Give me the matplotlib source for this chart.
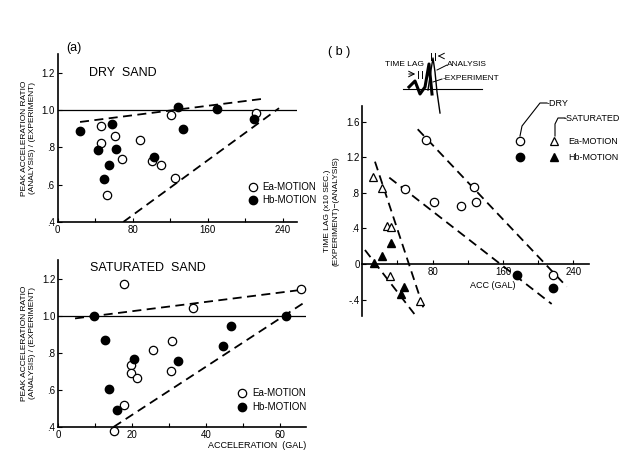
import matplotlib
matplotlib.use("Agg")
import matplotlib.pyplot as plt
import numpy as np

plt.rcParams['font.family'] = ['Liberation Sans', 'DejaVu Sans']

# (a) dry sand: acceleration (gal) vs peak acceleration ratio
dry_ea_acc = [46, 46, 61, 69, 53, 88, 101, 110, 121, 125, 211]
dry_ea_ratio = [0.916, 0.825, 0.862, 0.736, 0.546, 0.838, 0.729, 0.704, 0.973, 0.637, 0.982]
dry_hb_acc = [24, 43.5, 58, 62.5, 55, 50, 103, 128, 134, 170, 209]
dry_hb_ratio = [0.889, 0.784, 0.925, 0.789, 0.707, 0.632, 0.746, 1.016, 0.900, 1.007, 0.950]
dry_upper_x = [24, 217]
dry_upper_y = [0.936, 1.059]
dry_lower_x = [70, 236]
dry_lower_y = [0.40, 1.01]

# (a) saturated sand
sat_ea_acc = [17.8, 15, 19.7, 19.7, 21.3, 25.6, 30.5, 30.7, 36.5, 65.6, 17.8]
sat_ea_ratio = [0.52, 0.38, 0.735, 0.69, 0.665, 0.817, 0.704, 0.862, 1.041, 1.145, 1.172]
sat_hb_acc = [9.6, 12.7, 13.9, 15.9, 20.6, 32.5, 44.6, 46.6, 61.6]
sat_hb_ratio = [1.0, 0.866, 0.606, 0.49, 0.767, 0.753, 0.839, 0.946, 1.0]
sat_upper_x = [4.6, 65.4]
sat_upper_y = [0.985, 1.138]
sat_lower_x = [15, 68]
sat_lower_y = [0.40, 1.09]

# (b) time lag vs acceleration
lag_dry_ea_x = [72, 48.6, 82, 112, 126.5, 129.2, 216.6]
lag_dry_ea_y = [1.40, 0.84, 0.70, 0.654, 0.862, 0.70, -0.124]
lag_dry_hb_x = [176.4, 217.3]
lag_dry_hb_y = [-0.124, -0.267]
lag_sat_ea_x = [12.5, 22.8, 27.7, 32.7, 31.5, 65.6]
lag_sat_ea_y = [0.977, 0.853, 0.428, 0.42, -0.131, -0.413]
lag_sat_hb_x = [13.7, 22.8, 32.7, 47.8, 44]
lag_sat_hb_y = [0.015, 0.09, 0.233, -0.255, -0.342]
lag_fits = [([63, 232.5], [1.518, -0.255]),
            ([30.7, 215.4], [0.973, -0.45]),
            ([14.4, 70.6], [1.153, -0.526]),
            ([3, 59.2], [0.158, -0.563])]

fig = plt.figure(figsize=(6.25, 4.61), dpi=100)

dash = (0, (5, 3))
ms = 6


def style_axes(ax):
    for s in ['top', 'right']:
        ax.spines[s].set_visible(False)
    for s in ['left', 'bottom']:
        ax.spines[s].set_linewidth(1.2)
    ax.tick_params(direction='in', length=3, width=0.8, labelsize=7, pad=2)


def ratio_panel(rect, xlim, xticks, xlabels, ea_x, ea_y, hb_x, hb_y, fits, title, title_y):
    ax = fig.add_axes(rect)
    style_axes(ax)
    ax.set_xlim(*xlim)
    ax.set_ylim(0.4, 1.3)
    ax.set_xticks(xticks)
    ax.set_xticklabels(xlabels)
    ax.set_yticks([0.4, 0.6, 0.8, 1.0, 1.2])
    ax.set_yticklabels(['.4', '.6', '.8', '1.0', '1.2'])
    ax.axhline(1.0, color='black', lw=0.9)
    for fx, fy in fits:
        ax.plot(fx, fy, color='black', lw=1.3, ls=dash)
    ax.plot(ea_x, ea_y, 'o', mfc='white', mec='black', mew=0.9, ms=ms,
            label='Ea-MOTION', clip_on=False)
    ax.plot(hb_x, hb_y, 'o', color='black', ms=ms, label='Hb-MOTION', clip_on=False)
    ax.text(0.13, title_y, title, transform=ax.transAxes, fontsize=9, va='center')
    ax.set_ylabel('PEAK ACCELERATION RATIO\n(ANALYSIS) / (EXPERIMENT)',
                  fontsize=6, linespacing=1.2, labelpad=4)
    return ax


ax1 = ratio_panel([0.092, 0.5184, 0.383, 0.3644], (0, 255),
                  [0, 40, 80, 120, 160, 200, 240], ['0', '', '80', '', '160', '', '240'],
                  dry_ea_acc, dry_ea_ratio, dry_hb_acc, dry_hb_ratio,
                  [(dry_upper_x, dry_upper_y), (dry_lower_x, dry_lower_y)],
                  'DRY  SAND', 0.885)
ax1.legend(loc='upper left', bbox_to_anchor=(0.775, 0.265), frameon=False,
           fontsize=7, handlelength=1, handletextpad=0.5, borderpad=0,
           labelspacing=0.3)

ax2 = ratio_panel([0.0928, 0.0738, 0.397, 0.3623], (0, 67),
                  [0, 10, 20, 30, 40, 50, 60], ['0', '', '20', '', '40', '', '60'],
                  sat_ea_acc, sat_ea_ratio, sat_hb_acc, sat_hb_ratio,
                  [(sat_upper_x, sat_upper_y), (sat_lower_x, sat_lower_y)],
                  'SATURATED  SAND', 0.95)
ax2.legend(loc='upper left', bbox_to_anchor=(0.704, 0.26), frameon=False,
           fontsize=7, handlelength=1, handletextpad=0.5, borderpad=0,
           labelspacing=0.4)
ax2.set_xlabel('ACCELERATION  (GAL)', fontsize=6.5, loc='right', labelpad=1)

# panel (b)
ax3 = fig.add_axes([0.5797, 0.3137, 0.3629, 0.4564])
style_axes(ax3)
ax3.spines['bottom'].set_position(('data', 0))
ax3.set_xlim(0, 258)
ax3.set_ylim(-0.59, 1.78)
ax3.set_xticks([40, 80, 120, 160, 200, 240])
ax3.set_xticklabels(['', '80', '', '160', '', '240'])
ax3.set_yticks([-0.4, 0, 0.4, 0.8, 1.2, 1.6])
ax3.set_yticklabels(['-.4', '0', '.4', '.8', '1.2', '1.6'])
for fx, fy in lag_fits:
    ax3.plot(fx, fy, color='black', lw=1.3, ls=dash)
ax3.plot(lag_dry_ea_x, lag_dry_ea_y, 'o', mfc='white', mec='black', mew=0.9, ms=ms)
ax3.plot(lag_dry_hb_x, lag_dry_hb_y, 'o', color='black', ms=ms)
ax3.plot(lag_sat_ea_x, lag_sat_ea_y, '^', mfc='white', mec='black', mew=0.9, ms=ms)
ax3.plot(lag_sat_hb_x, lag_sat_hb_y, '^', color='black', ms=ms)
ax3.text(123, -0.24, 'ACC (GAL)', fontsize=6.5, va='center')
ax3.set_ylabel('TIME LAG (x10 SEC.)\n(EXPERIMENT)\u2212(ANALYSIS)',
               fontsize=6, linespacing=1.3, labelpad=5)

# overlay in pixel units for labels, schematic and legend of (b)
ov = fig.add_axes([0, 0, 1, 1], zorder=5)
ov.set_xlim(0, 625)
ov.set_ylim(461, 0)
ov.axis('off')
ov.text(66, 48, '(a)', fontsize=9, va='center')
ov.text(328, 52, '( b )', fontsize=9, va='center')

# time lag schematic
ov.plot([403, 482], [89, 89], color='black', lw=0.8)
ov.plot([409, 415, 420, 425, 429, 432],
        [87, 81, 94, 87, 64, 94], color='black', lw=2.2)
ov.plot([428, 431, 433, 435, 437, 440],
        [90, 70, 58, 72, 92, 113], color='black', lw=1.0)
ov.text(385, 64, 'TIME LAG', fontsize=6, va='center')
ov.annotate('', xy=(418, 74), xytext=(406, 74),
            arrowprops=dict(arrowstyle='->', lw=0.7, color='black'))
ov.plot([418, 418], [71, 78], color='black', lw=0.7)
ov.plot([422, 422], [71, 78], color='black', lw=0.7)
ov.plot([431, 431], [53, 60], color='black', lw=0.7)
ov.plot([435, 435], [53, 60], color='black', lw=0.7)
ov.annotate('', xy=(435, 56), xytext=(442, 56),
            arrowprops=dict(arrowstyle='->', lw=0.7, color='black'))
ov.plot([437, 447], [70, 65], color='black', lw=0.7)
ov.plot([433, 442], [82, 79], color='black', lw=0.7)
ov.text(447, 65, 'ANALYSIS', fontsize=6, va='center')
ov.text(443, 79, '-EXPERIMENT', fontsize=6, va='center')

# legend of (b)
ov.plot(520, 141, 'o', mfc='white', mec='black', mew=0.9, ms=ms)
ov.plot(520, 157, 'o', color='black', ms=ms)
ov.plot(554, 141, '^', mfc='white', mec='black', mew=0.9, ms=ms - 0.5)
ov.plot(554, 157, '^', color='black', ms=ms - 0.5)
ov.text(568, 141, 'Ea-MOTION', fontsize=6.5, va='center')
ov.text(568, 157, 'Hb-MOTION', fontsize=6.5, va='center')
ov.plot([547, 540, 522, 520], [103, 103, 126, 136], color='black', lw=0.8)
ov.text(547, 103, '-DRY', fontsize=6.5, va='center')
ov.plot([565, 558, 555, 555], [118, 118, 124, 136], color='black', lw=0.8)
ov.text(564, 118, '-SATURATED', fontsize=6.5, va='center')

fig.savefig('out.png', dpi=100)
